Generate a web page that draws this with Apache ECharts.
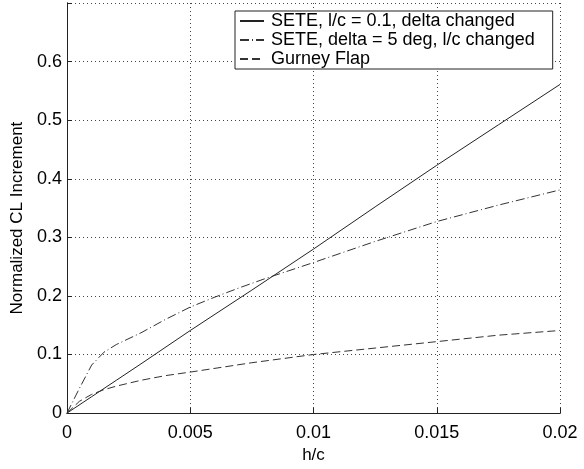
<!DOCTYPE html>
<html>
<head>
<meta charset="utf-8">
<script src="https://cdn.jsdelivr.net/npm/echarts@6/dist/echarts.min.js"></script>
<style>
html,body{margin:0;padding:0;background:#fff;}
#c{width:584px;height:469px;}
</style>
</head>
<body>
<div id="c"></div>
<script>
// ---- data ----
var seriesNames = [
  'SETE, l/c = 0.1, delta changed',
  'SETE, delta = 5 deg, l/c changed',
  'Gurney Flap'
];
var xTicks = [0, 0.005, 0.01, 0.015, 0.02];
var yTicks = [0, 0.1, 0.2, 0.3, 0.4, 0.5, 0.6];

var seteDeltaX = [0, 0.001, 0.002, 0.003, 0.005, 0.0075, 0.01, 0.0125, 0.015, 0.0175, 0.02];
var seteDeltaY = [0, 0.028, 0.056, 0.084, 0.141, 0.210, 0.280, 0.352, 0.423, 0.492, 0.561];

var seteLcX = [0, 0.0005, 0.001, 0.0015, 0.002, 0.003, 0.004, 0.005, 0.006, 0.007, 0.008, 0.009, 0.01, 0.0125, 0.015, 0.0175, 0.02];
var seteLcY = [0, 0.042, 0.082, 0.104, 0.117, 0.137, 0.160, 0.181, 0.198, 0.214, 0.229, 0.243, 0.257, 0.293, 0.327, 0.355, 0.381];

var gurneyX = [0, 0.0005, 0.001, 0.0015, 0.002, 0.003, 0.004, 0.005, 0.0075, 0.01, 0.0125, 0.015, 0.0175, 0.02];
var gurneyY = [0, 0.020, 0.032, 0.040, 0.046, 0.056, 0.064, 0.070, 0.086, 0.100, 0.111, 0.122, 0.133, 0.141];

function pairs(xs, ys){ return xs.map(function(x,i){ return [x, ys[i]]; }); }

var FONT = '"Liberation Sans", Arial, Helvetica, sans-serif';
var chart = echarts.init(document.getElementById('c'), null, {renderer:'canvas'});

var axisLineStyle = {color:'#222', width:1};
var gridLine = {show:true, lineStyle:{color:'#444', width:1, type:[1,3]}};

chart.setOption({
  animation:false,
  backgroundColor:'#fff',
  grid:{left:67, right:24, top:3, bottom:51, containLabel:false},
  legend:{
    orient:'vertical',
    left:235, top:11,
    backgroundColor:'#fff',
    borderColor:'#222', borderWidth:1,
    padding:[1, 18, 1, 4],
    itemWidth:24, itemHeight:14, itemGap:1,
    itemStyle:{opacity:0},
    textStyle:{fontFamily:FONT, fontSize:18, color:'#000', lineHeight:18, padding:[0,0,0,2]},
    data:seriesNames
  },
  xAxis:[{
    type:'value', min:0, max:0.02, interval:0.005,
    name:'h/c', nameLocation:'middle', nameGap:27,
    nameTextStyle:{fontFamily:FONT, fontSize:17, color:'#000'},
    axisLine:{show:true, lineStyle:axisLineStyle},
    axisTick:{show:true, inside:true, length:5, lineStyle:axisLineStyle},
    axisLabel:{fontFamily:FONT, fontSize:18, color:'#000', margin:11},
    splitLine:gridLine
  },{
    type:'value', position:'top', min:0, max:0.02, interval:0.005,
    axisLine:{show:true, lineStyle:axisLineStyle},
    axisTick:{show:true, inside:false, length:5, lineStyle:axisLineStyle},
    axisLabel:{show:false}, splitLine:{show:false}
  }],
  yAxis:[{
    type:'value', min:0, max:0.7, interval:0.1,
    name:'Normalized CL Increment', nameLocation:'middle', nameGap:33,
    nameTextStyle:{fontFamily:FONT, fontSize:17, color:'#000', padding:[0,20,0,0]},
    axisLine:{show:true, lineStyle:axisLineStyle},
    axisTick:{show:true, inside:true, length:5, lineStyle:axisLineStyle},
    axisLabel:{fontFamily:FONT, fontSize:18, color:'#000', margin:5,
      formatter:function(v){ return v > 0.65 ? '' : String(Math.round(v*10)/10); }},
    splitLine:gridLine
  },{
    type:'value', position:'right', min:0, max:0.7, interval:0.1,
    axisLine:{show:true, lineStyle:axisLineStyle},
    axisTick:{show:true, inside:false, length:5, lineStyle:axisLineStyle},
    axisLabel:{show:false}, splitLine:{show:false}
  }],
  series:[{
    name:seriesNames[0], type:'line', xAxisIndex:0, yAxisIndex:0,
    data:pairs(seteDeltaX, seteDeltaY), symbol:'none', showSymbol:false,
    lineStyle:{color:'#222', width:1, type:'solid'}, itemStyle:{color:'#222'}
  },{
    name:seriesNames[1], type:'line', xAxisIndex:0, yAxisIndex:0,
    data:pairs(seteLcX, seteLcY), symbol:'none', showSymbol:false,
    lineStyle:{color:'#333', width:1, type:[9,3,1,3]}, itemStyle:{color:'#333'}
  },{
    name:seriesNames[2], type:'line', xAxisIndex:0, yAxisIndex:0,
    data:pairs(gurneyX, gurneyY), symbol:'none', showSymbol:false,
    lineStyle:{color:'#333', width:1, type:[8,4]}, itemStyle:{color:'#333'}
  }]
});
</script>
</body>
</html>
